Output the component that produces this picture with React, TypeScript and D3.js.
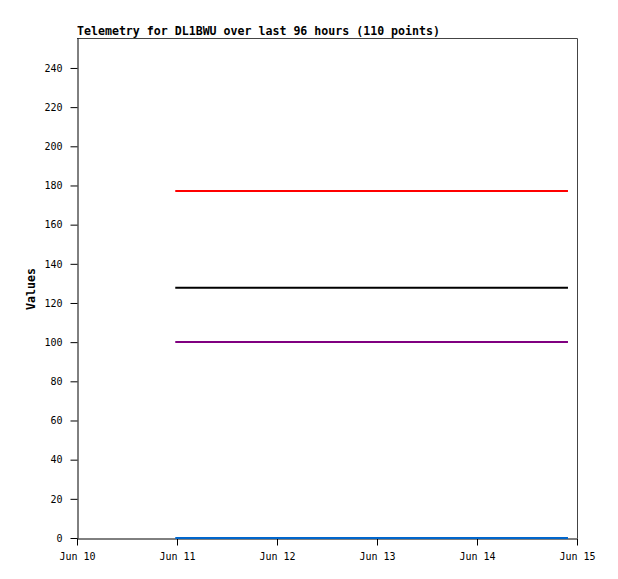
import { useEffect, useRef } from 'react';
import * as d3 from 'd3';

// Sample times (first and last telemetry point in the window)
const sampleTimes = ['2024-06-10T23:35:00', '2024-06-14T21:50:00'];

// Telemetry channels, constant over the window
const channel1 = [177.2, 177.2];
const channel2 = [127.8, 127.8];
const channel3 = [100.1, 100.1];
const channel4 = [0, 0];

const seriesNames = ['ch1', 'ch2', 'ch3', 'ch4'];
const seriesColors = ['#ff0000', '#000000', '#800080', '#0066cc'];

const yTicks = [0, 20, 40, 60, 80, 100, 120, 140, 160, 180, 200, 220, 240];
const xTicks = ['2024-06-10', '2024-06-11', '2024-06-12', '2024-06-13', '2024-06-14', '2024-06-15'];

export default function App() {
  const svgRef = useRef<SVGSVGElement>(null);

  useEffect(() => {
    if (!svgRef.current) return;

    const width = 618;
    const height = 579;
    const margin = { top: 38, right: 41, bottom: 41, left: 77 };
    const font = '"DejaVu Sans Mono", "Liberation Mono", monospace';

    const svg = d3.select(svgRef.current);
    svg.selectAll('*').remove();

    const x = d3
      .scaleTime()
      .domain([new Date('2024-06-10T00:00:00'), new Date('2024-06-15T00:00:00')])
      .range([margin.left, width - margin.right]);

    const y = d3
      .scaleLinear()
      .domain([0, 255.3])
      .range([height - margin.bottom, margin.top]);

    const times = sampleTimes.map((t) => new Date(t));
    const allSeries = [channel1, channel2, channel3, channel4];

    // frame (top and right)
    svg
      .append('path')
      .attr(
        'd',
        `M${x.range()[0]},${margin.top + 0.5}H${x.range()[1] + 0.5}V${height - margin.bottom}`
      )
      .attr('fill', 'none')
      .attr('stroke', '#444')
      .attr('stroke-width', 1);

    // y axis
    const yAxis = svg
      .append('g')
      .attr('transform', `translate(${margin.left + 0.5},0)`)
      .call(d3.axisLeft(y).tickValues(yTicks).tickSize(7).tickSizeOuter(0).tickPadding(8));
    yAxis.select('.domain').attr('stroke', '#000');
    yAxis.selectAll('text').attr('font-family', font).attr('font-size', 10).attr('fill', '#000');

    // x axis
    const xAxis = svg
      .append('g')
      .attr('transform', `translate(0,${height - margin.bottom + 0.5})`)
      .call(
        d3
          .axisBottom(x)
          .tickValues(xTicks.map((t) => new Date(t + 'T00:00:00')))
          .tickFormat((d) => d3.timeFormat('%b %d')(d as Date))
          .tickSize(7)
          .tickSizeOuter(0)
          .tickPadding(7)
      );
    xAxis.select('.domain').attr('stroke', '#000');
    xAxis.selectAll('text').attr('font-family', font).attr('font-size', 10).attr('fill', '#000');

    const line = d3
      .line<number>()
      .x((_, i) => x(times[i]))
      .y((d) => y(d));

    allSeries.forEach((values, i) => {
      svg
        .append('path')
        .datum(values)
        .attr('class', seriesNames[i])
        .attr('d', line)
        .attr('fill', 'none')
        .attr('stroke', seriesColors[i])
        .attr('stroke-width', 2);
    });

    // title
    svg
      .append('text')
      .attr('x', margin.left)
      .attr('y', 35)
      .attr('font-family', font)
      .attr('font-size', 11.6)
      .attr('font-weight', 'bold')
      .text('Telemetry for DL1BWU over last 96 hours (110 points)');

    // y label
    svg
      .append('text')
      .attr('transform', `translate(35,${(margin.top + height - margin.bottom) / 2 + 1}) rotate(-90)`)
      .attr('text-anchor', 'middle')
      .attr('font-family', font)
      .attr('font-size', 11.6)
      .attr('font-weight', 'bold')
      .text('Values');
  }, []);

  return (
    <svg
      ref={svgRef}
      width={618}
      height={579}
      style={{ position: 'absolute', left: 0, top: 0, background: '#fff' }}
    />
  );
}
